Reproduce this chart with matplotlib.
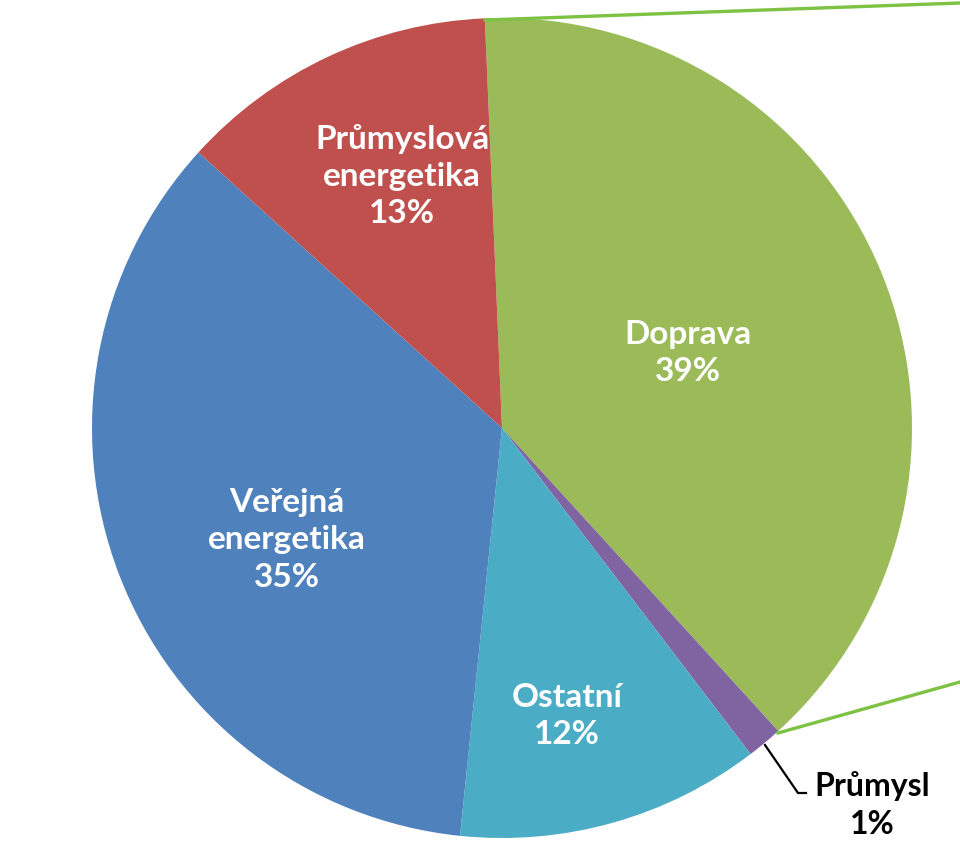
import matplotlib.pyplot as plt

# podíly emisí podle sektorů
labels = ["Doprava", "Průmysl", "Ostatní", "Veřejná\nenergetika", "Průmyslová\nenergetika"]
values = [38.9, 1.4, 12.0, 35.1, 12.6]
pct_text = ["39%", "1%", "12%", "35%", "13%"]
colors = ["#9BBB59", "#8064A2", "#4BACC6", "#4F81BD", "#C0504D"]

W, H = 960, 864
cx, cy, r = 502, H - 428, 410

fig = plt.figure(figsize=(W / 100, H / 100), dpi=100)
ax = fig.add_axes([0, 0, 1, 1])

wedges, _ = ax.pie(values, colors=colors, startangle=92.4, counterclock=False,
                   center=(cx, cy), radius=r, frame=True,
                   wedgeprops=dict(linewidth=0))
ax.set_xlim(0, W)
ax.set_ylim(0, H)
ax.set_aspect("equal")
ax.axis("off")

font = ["Lato", "DejaVu Sans"]
# popisky uvnitř výsečí
pos = {0: (688, 353), 2: (567, 716), 3: (287, 540), 4: (402, 176)}
for i, (x, y) in pos.items():
    ax.text(x, H - y, f"{labels[i]}\n{pct_text[i]}", ha="center", va="center",
            color="white", fontsize=24, fontweight="bold", family=font,
            linespacing=1.35)

# malý díl s vynášecí čarou
ax.plot([765, 798, 806], [H - 745, H - 793, H - 793], color="black", lw=1.6)
ax.text(872, H - 805, f"{labels[1]}\n{pct_text[1]}", ha="center", va="center",
        color="black", fontsize=23, fontweight="bold", family=font,
        linespacing=1.4)

# spojnice k vedlejšímu grafu
ax.plot([485, 960], [H - 20, H - 3], color="#7DC243", lw=2.4, clip_on=False)
ax.plot([778, 960], [H - 733, H - 682], color="#7DC243", lw=2.4, clip_on=False)

fig.savefig("out.png", dpi=100)
